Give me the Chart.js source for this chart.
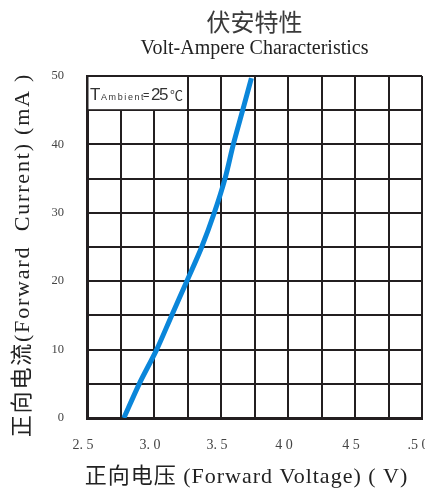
<!DOCTYPE html>
<html><head><meta charset="utf-8">
<script src="https://cdn.jsdelivr.net/npm/chart.js@4.4.0/dist/chart.umd.min.js"></script>
<style>html,body{margin:0;padding:0;background:#fff;}</style>
</head><body>
<canvas id="c" width="429" height="490"></canvas>
<script>
// Data
const voltage = [2.775, 2.89, 3.02, 3.132, 3.245, 3.356, 3.45, 3.53, 3.592, 3.662, 3.727];
const current = [0, 5, 10, 15, 20, 25, 30, 35, 40, 45, 49.7];
const xTickValues = [2.5, 3.0, 3.5, 4.0, 4.5, 5.0];
const xTickLabels = ["2. 5", "3. 0", "3. 5", "4 0", "4 5", ".5 0"];
const yTickValues = [0, 10, 20, 30, 40, 50];
const yTickLabels = ["0", "10", "20", "30", "40", "50"];
const titleText = "伏安特性";
const subtitleText = "Volt-Ampere Characteristics";
const xAxisTitle = "正向电压 (Forward Voltage) ( V)";
const yAxisTitle = "正向电流(Forward  Current) (mA )";

const GRID = '#231f20';
const SERIF = "'Liberation Serif', 'Noto Sans CJK SC'";

// wrap a scale's drawing step with extra canvas state (letter spacing / shift)
function wrapStep(scale, name, spacing, dx, dy) {
  const key = '_wrapped_' + name;
  if (scale[key]) return;
  scale[key] = true;
  const orig = scale[name];
  scale[name] = function (...args) {
    const ctx = this.ctx;
    ctx.save();
    ctx.letterSpacing = spacing;
    ctx.translate(dx, dy);
    orig.apply(this, args);
    ctx.restore();
  };
}

const ambientBox = {
  id: 'ambientBox',
  beforeDatasetsDraw(chart) {
    const {ctx, scales: {x, y}} = chart;
    const l = x.getPixelForValue(2.5), r = x.getPixelForValue(3.25);
    const t = y.getPixelForValue(50), b = y.getPixelForValue(45);
    ctx.save();
    ctx.fillStyle = '#fff';
    ctx.fillRect(l + 1.5, t + 1, r - l - 2.5, b - t - 2);
    ctx.fillStyle = '#333';
    ctx.textBaseline = 'alphabetic';
    const base = t + 24;
    ctx.font = "17px 'Liberation Sans'";
    ctx.fillText('T', l + 3, base);
    ctx.font = "9px 'Liberation Sans'";
    ctx.letterSpacing = '1.6px';
    ctx.fillText('Ambient', l + 14, base);
    ctx.letterSpacing = '0px';
    ctx.font = "11px 'Liberation Sans'";
    ctx.fillText('=', l + 56, base - 1);
    ctx.font = "17px 'Liberation Sans'";
    ctx.letterSpacing = '-1.5px';
    ctx.fillText('25', l + 64, base);
    ctx.letterSpacing = '0px';
    ctx.font = "13px 'Noto Sans CJK SC'";
    ctx.fillText('℃', l + 83, base);
    ctx.restore();
  }
};

new Chart(document.getElementById('c'), {
  type: 'scatter',
  data: {
    datasets: [{
      data: voltage.map((v, i) => ({x: v, y: current[i]})),
      showLine: true,
      borderColor: '#0a86da',
      borderWidth: 5,
      pointRadius: 0,
      tension: 0.3,
      borderCapStyle: 'butt'
    }]
  },
  options: {
    responsive: false,
    animation: false,
    layout: {padding: {left: 0, right: 7, top: 0, bottom: 0}},
    plugins: {
      legend: {display: false},
      tooltip: {enabled: false},
      title: {
        display: true, text: titleText, fullSize: false, color: '#3a3a3a',
        font: {family: "'Noto Sans CJK SC'", size: 24, weight: 'normal', lineHeight: 1.1},
        padding: {top: 8.8, bottom: 2}
      },
      subtitle: {
        display: true, text: subtitleText, fullSize: false, color: '#222',
        font: {family: "'Liberation Serif'", size: 20, weight: 'normal', lineHeight: 1.2},
        padding: {top: 0, bottom: 14.8}
      }
    },
    scales: {
      x: {
        type: 'linear', min: 2.5, max: 5.0,
        afterFit(s) {
          s.height = 72; s.paddingLeft = 0; s.paddingRight = 0;
          wrapStep(s, 'drawLabels', '0px', -4, 0);
          wrapStep(s, 'drawTitle', '1px', -8, 0);
        },
        ticks: {
          stepSize: 0.25, autoSkip: false, maxRotation: 0, padding: 19,
          color: '#444', font: {family: SERIF, size: 14},
          callback(v) {
            const i = xTickValues.findIndex(t => Math.abs(t - v) < 1e-6);
            return i >= 0 ? xTickLabels[i] : '';
          }
        },
        grid: {color: GRID, lineWidth: 2, drawTicks: false},
        border: {display: true, color: GRID, width: 3},
        title: {
          display: true, text: xAxisTitle, color: '#222',
          font: {family: SERIF, size: 22, weight: 'normal', lineHeight: 1.2},
          padding: {top: 0, bottom: 0}
        }
      },
      y: {
        type: 'linear', min: 0, max: 50,
        afterFit(s) {
          s.width = 87;
          wrapStep(s, 'drawTitle', '1.8px', 0, 8);
        },
        ticks: {
          stepSize: 5, autoSkip: false, padding: 23,
          color: '#444', font: {family: SERIF, size: 12.5},
          callback(v) {
            const i = yTickValues.findIndex(t => Math.abs(t - v) < 1e-6);
            return i >= 0 ? yTickLabels[i] : '';
          }
        },
        grid: {color: GRID, lineWidth: 2, drawTicks: false},
        border: {display: true, color: GRID, width: 3},
        title: {
          display: true, text: yAxisTitle, color: '#222',
          font: {family: SERIF, size: 22, weight: 'normal', lineHeight: 1.2},
          padding: {top: 10, bottom: 0}
        }
      }
    }
  },
  plugins: [ambientBox]
});
</script>
</body></html>
